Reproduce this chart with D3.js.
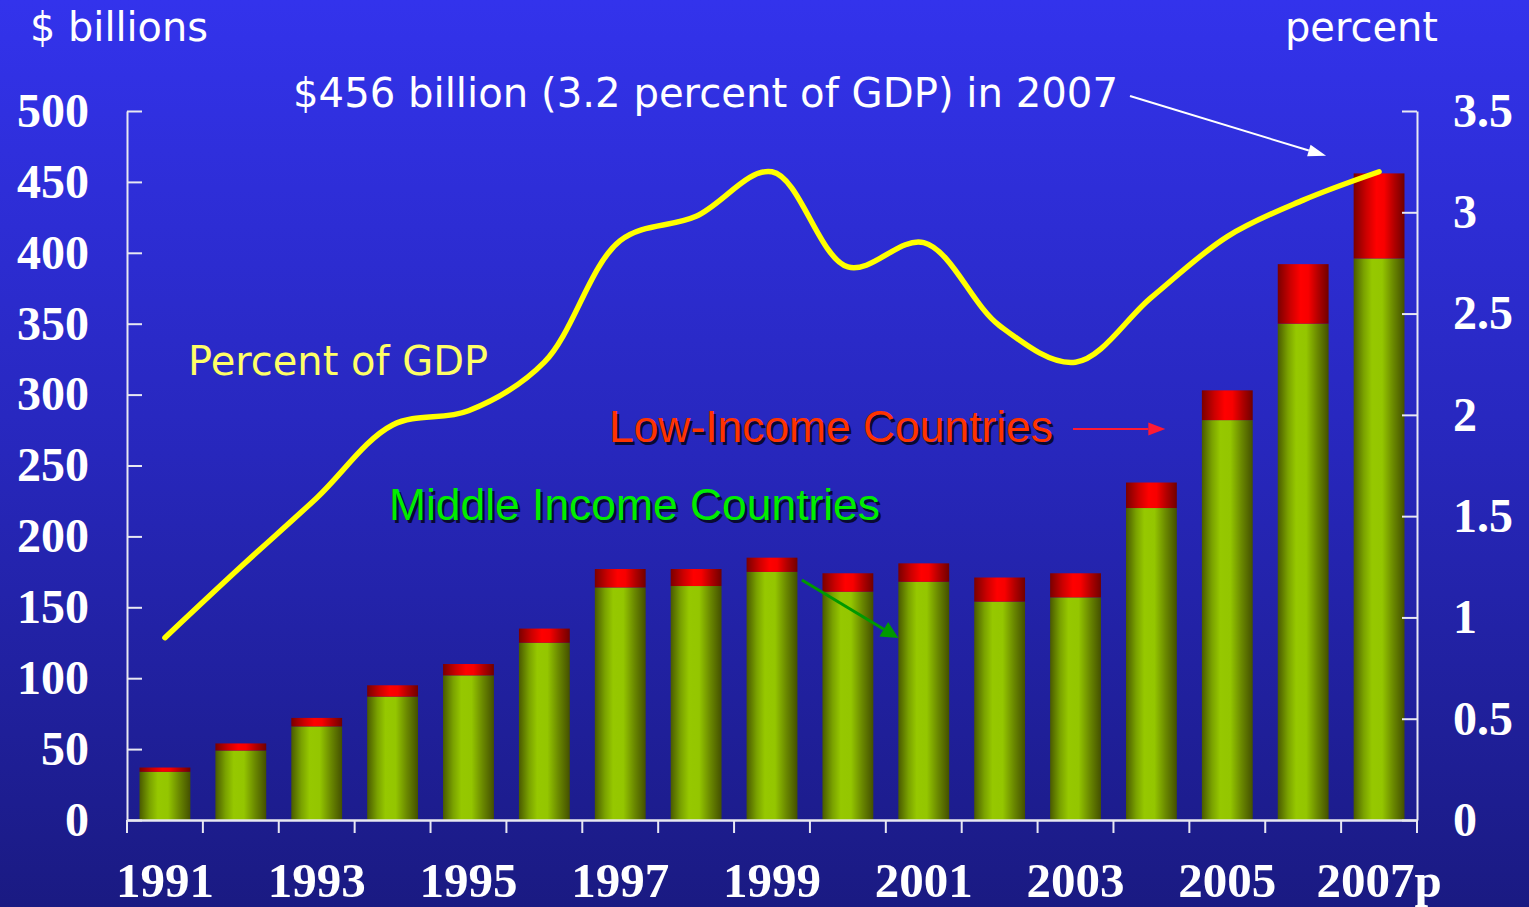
<!DOCTYPE html>
<html>
<head>
<meta charset="utf-8">
<script src="https://cdn.jsdelivr.net/npm/d3@7"></script>
<style>
  html, body { margin: 0; padding: 0; overflow: hidden; background: #2626b8; }
  svg { display: block; }
</style>
</head>
<body>
<svg id="chart" width="1529" height="907"></svg>
<script>
// Net private capital flows to developing countries, 1991-2007 (p = projected)
const years = [1991, 1992, 1993, 1994, 1995, 1996, 1997, 1998, 1999, 2000, 2001, 2002, 2003, 2004, 2005, 2006, 2007];
// $ billions, middle-income countries (green segment)
const middleIncome = [34, 49, 66, 87, 102, 125, 164, 165, 175, 161, 168, 154, 157, 220, 282, 350, 396];
// $ billions, low-income countries (red segment stacked on top)
const lowIncome = [3, 5, 6, 8, 8, 10, 13, 12, 10, 13, 13, 17, 17, 18, 21, 42, 60];
// total flows as percent of developing-country GDP
const percentGDP = [0.90, 1.25, 1.59, 1.95, 2.02, 2.26, 2.86, 2.98, 3.20, 2.73, 2.85, 2.44, 2.26, 2.58, 2.88, 3.06, 3.20];

const yearTickLabels = ["1991", "", "1993", "", "1995", "", "1997", "", "1999", "", "2001", "", "2003", "", "2005", "", "2007p"];
const leftTicks = [0, 50, 100, 150, 200, 250, 300, 350, 400, 450, 500];
const rightTicks = [0, 0.5, 1, 1.5, 2, 2.5, 3, 3.5];

const W = 1529, H = 907;
const plot = { left: 127, right: 1417, top: 111, bottom: 820 };

const svg = d3.select("#chart");
const defs = svg.append("defs");

// backdrop gradient
const bg = defs.append("linearGradient").attr("id", "bg").attr("x1", 0).attr("y1", 0).attr("x2", 0).attr("y2", 1);
bg.append("stop").attr("offset", "0%").attr("stop-color", "#3333ec");
bg.append("stop").attr("offset", "50%").attr("stop-color", "#2727bc");
bg.append("stop").attr("offset", "100%").attr("stop-color", "#1a1a82");
svg.append("rect").attr("width", W).attr("height", H).attr("fill", "url(#bg)");

// cylinder-like shading for the bar segments
function hGrad(id, stops) {
  const g = defs.append("linearGradient").attr("id", id).attr("x1", 0).attr("y1", 0).attr("x2", 1).attr("y2", 0);
  stops.forEach(([o, c]) => g.append("stop").attr("offset", o).attr("stop-color", c));
}
hGrad("gGreen", [["0%", "#4a5a00"], ["20%", "#7aa200"], ["36%", "#96c800"], ["56%", "#94c600"], ["78%", "#6a8800"], ["100%", "#445000"]]);
hGrad("gRed", [["0%", "#7a0000"], ["25%", "#cc0000"], ["45%", "#ff0000"], ["60%", "#f80000"], ["80%", "#b00000"], ["100%", "#700000"]]);

const x = d3.scaleBand().domain(years).range([plot.left, plot.right]).paddingInner(0.33).paddingOuter(0.165);
const yL = d3.scaleLinear().domain([0, 500]).range([plot.bottom, plot.top]);
const yR = d3.scaleLinear().domain([0, 3.5]).range([plot.bottom, plot.top]);
const xc = y => x(y) + x.bandwidth() / 2;

const rows = years.map((yr, i) => ({ year: yr, mid: middleIncome[i], low: lowIncome[i], pct: percentGDP[i] }));

// stacked bars
const bars = svg.append("g");
bars.selectAll("rect.mid").data(rows).join("rect").attr("class", "mid")
  .attr("x", d => x(d.year)).attr("width", x.bandwidth())
  .attr("y", d => yL(d.mid)).attr("height", d => yL(0) - yL(d.mid))
  .attr("fill", "url(#gGreen)");
bars.selectAll("rect.low").data(rows).join("rect").attr("class", "low")
  .attr("x", d => x(d.year)).attr("width", x.bandwidth())
  .attr("y", d => yL(d.mid + d.low)).attr("height", d => yL(d.mid) - yL(d.mid + d.low))
  .attr("fill", "url(#gRed)");

// axes
const axisColor = "#e8e8f2";
const serif = "'Liberation Serif', 'Times New Roman', serif";

const gL = svg.append("g").attr("transform", `translate(${plot.left},0)`)
  .call(d3.axisLeft(yL).tickValues(leftTicks).tickSize(-15).tickSizeOuter(0).tickPadding(38).tickFormat(d3.format("d")));
const gR = svg.append("g").attr("transform", `translate(${plot.right},0)`)
  .call(d3.axisRight(yR).tickValues(rightTicks).tickSize(-15).tickSizeOuter(0).tickPadding(36).tickFormat(d => String(d)));
[gL, gR].forEach(g => {
  g.selectAll("path.domain, line").attr("stroke", axisColor).attr("stroke-width", 2);
  g.selectAll("text").attr("fill", "#ffffff").attr("font-family", serif).attr("font-weight", "bold")
    .attr("font-size", 48).attr("dy", "0.32em");
});

const gB = svg.append("g").attr("transform", `translate(0,${plot.bottom})`)
  .call(d3.axisBottom(x).tickSize(0).tickSizeOuter(0).tickPadding(0).tickFormat((d, i) => yearTickLabels[i]));
gB.select("path.domain").attr("stroke", axisColor).attr("stroke-width", 2.5);
gB.selectAll("text").attr("fill", "#ffffff").attr("font-family", serif).attr("font-weight", "bold")
  .attr("font-size", 49).attr("y", 77).attr("dy", 0);
// category boundary ticks
const boundaries = d3.range(years.length + 1).map(i => plot.left + i * x.step());
gB.selectAll("line.bound").data(boundaries).join("line").attr("class", "bound")
  .attr("x1", d => d).attr("x2", d => d).attr("y1", 0).attr("y2", 13)
  .attr("stroke", axisColor).attr("stroke-width", 2);

// percent-of-GDP line
const line = d3.line().x(d => xc(d.year)).y(d => yR(d.pct)).curve(d3.curveCatmullRom.alpha(0.5));
svg.append("path").datum(rows).attr("d", line)
  .attr("fill", "none").attr("stroke", "#ffff00").attr("stroke-width", 5.5)
  .attr("stroke-linecap", "round").attr("stroke-linejoin", "round");

// text
const sans = "'DejaVu Sans', Verdana, sans-serif";
const arial = "'Liberation Sans', Arial, sans-serif";

function label(txt, x0, y0, opts) {
  const t = svg.append("text").attr("x", x0).attr("y", y0).text(txt)
    .attr("font-family", opts.family).attr("font-size", opts.size).attr("fill", opts.fill);
  if (opts.width) t.attr("textLength", opts.width).attr("lengthAdjust", "spacingAndGlyphs");
  return t;
}
function shadowLabel(txt, x0, y0, opts) {
  label(txt, x0 + 2.5, y0 + 2.5, Object.assign({}, opts, { fill: "#0a0a30" }));
  return label(txt, x0, y0, opts);
}

label("$ billions", 30, 41, { family: sans, size: 40, fill: "#ffffff", width: 178 });
label("percent", 1285, 41, { family: sans, size: 40, fill: "#ffffff", width: 153 });
label("$456 billion (3.2 percent of GDP) in 2007", 293, 107, { family: sans, size: 40, fill: "#ffffff", width: 825 });
label("Percent of GDP", 188, 375, { family: sans, size: 40, fill: "#ffff66", width: 300 });
shadowLabel("Low-Income Countries", 609, 442, { family: arial, size: 44, fill: "#ff3300", width: 444 });
shadowLabel("Middle Income Countries", 389, 520, { family: arial, size: 44, fill: "#00ee00", width: 491 });

// annotation arrows
function arrow(x1, y1, x2, y2, color, width, headLen, headW) {
  const ang = Math.atan2(y2 - y1, x2 - x1);
  const bx = x2 - headLen * Math.cos(ang), by = y2 - headLen * Math.sin(ang);
  svg.append("line").attr("x1", x1).attr("y1", y1).attr("x2", bx).attr("y2", by)
    .attr("stroke", color).attr("stroke-width", width);
  const px = -Math.sin(ang) * headW / 2, py = Math.cos(ang) * headW / 2;
  svg.append("polygon")
    .attr("points", [[x2, y2], [bx + px, by + py], [bx - px, by - py]].map(p => p.join(",")).join(" "))
    .attr("fill", color);
}
const last = rows[rows.length - 1];
arrow(1130, 96, xc(last.year) - 53, yR(last.pct) - 16, "#ffffff", 2, 18, 12);
arrow(1073, 429, xc(2005) - 62, 429, "#ff1a33", 2, 17, 13);
arrow(xc(2000) - 46, 580, x(2001), 638, "#009900", 3, 17, 17);
</script>
</body>
</html>
